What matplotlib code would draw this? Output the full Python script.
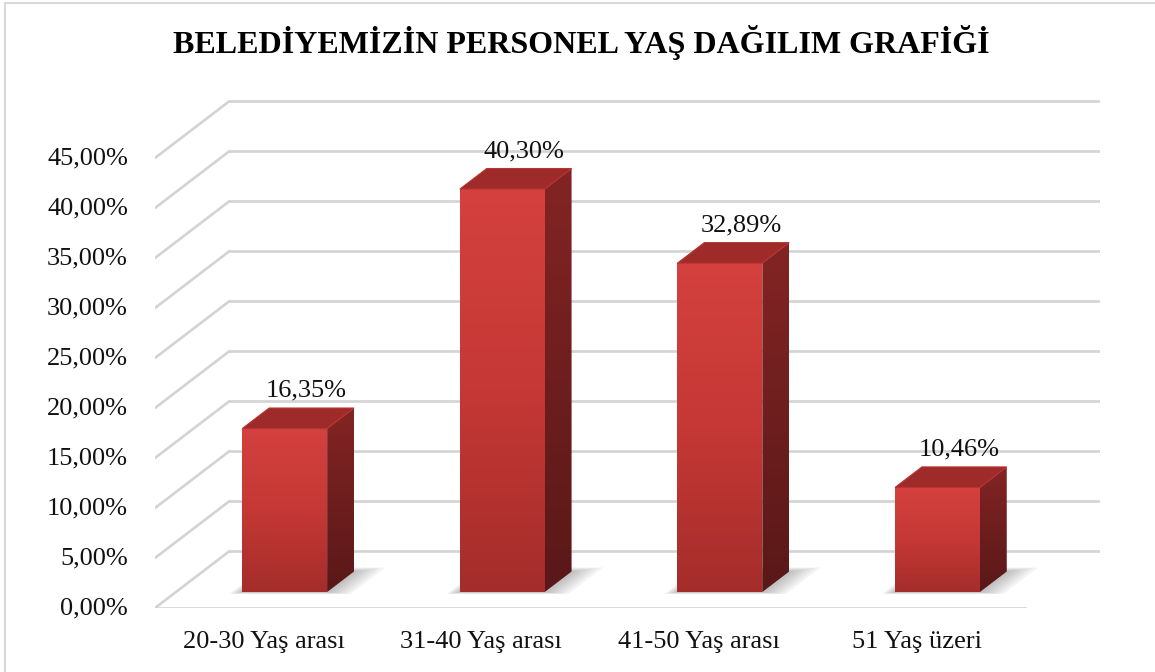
import matplotlib
matplotlib.use("Agg")
import matplotlib.pyplot as plt
import numpy as np
from matplotlib.patches import Polygon
from matplotlib.lines import Line2D
from matplotlib.colors import LinearSegmentedColormap

plt.rcParams['font.family'] = ['Liberation Serif', 'DejaVu Serif']

title = "BELEDİYEMİZİN PERSONEL YAŞ DAĞILIM GRAFİĞİ"
categories = ["20-30 Yaş arası", "31-40 Yaş arası", "41-50 Yaş arası", "51 Yaş üzeri"]
values = [16.35, 40.30, 32.89, 10.46]
yticks = [0, 5, 10, 15, 20, 25, 30, 35, 40, 45]

def fmt(v):
    return f"{v:.2f}".replace('.', ',') + '%'

W, H, DPI = 1155, 672, 100
fig = plt.figure(figsize=(W / DPI, H / DPI), dpi=DPI)
fig.patch.set_facecolor('white')

# 3D depth offsets (in data units) for the whole plot box
DX, DY = 0.343, 5.7
ncat = len(categories)
xmax = ncat + DX
ymax = max(yticks) + DY + 0.1

ax = fig.add_axes([155 / W, (H - 608) / H, (1100 - 155) / W, (608 - 100) / H])
ax.set_xlim(0, xmax)
ax.set_ylim(0, ymax)
ax.axis('off')

def proj(x, y, d):
    return (x + d * DX, y + d * DY)

grid_c = '#D3D3D3'
# grid: left wall diagonals + back wall lines
for t in yticks:
    ax.add_line(Line2D([0, DX], [t, t + DY], color=grid_c, lw=1.9, zorder=1, solid_capstyle='round'))
    ax.add_line(Line2D([DX, ncat + DX], [t + DY, t + DY], color=grid_c, lw=1.9, zorder=1))
# floor front edge
ax.add_line(Line2D([0, ncat], [0, 0], color=grid_c, lw=1.9, zorder=1))

# bars
w = 0.39
d0, d1 = 0.28, 0.64
front_cmap = LinearSegmentedColormap.from_list('f', ['#D4413E', '#C53835', '#A42D2B'])
side_cmap = LinearSegmentedColormap.from_list('s', ['#842424', '#6E1E1E', '#5A1818'])
grad = np.linspace(0, 1, 256).reshape(-1, 1)

for i, v in enumerate(values):
    x0, x1 = i + 0.5 - w / 2, i + 0.5 + w / 2
    # soft shadow on floor
    for k, e in enumerate(np.linspace(0.12, 0.0, 7)):
        sh = [proj(x0 - e * 0.4, 0, d0 - e * 0.3), proj(x1 + e, 0, d0 - e * 0.3),
              proj(x1 + e, 0, d1 + e * 0.6), proj(x0 - e * 0.4, 0, d1 + e * 0.6)]
        ax.add_patch(Polygon(sh, closed=True, facecolor='#404040', edgecolor='none',
                             alpha=0.06, zorder=2))
    front = [proj(x0, 0, d0), proj(x1, 0, d0), proj(x1, v, d0), proj(x0, v, d0)]
    side = [proj(x1, 0, d0), proj(x1, 0, d1), proj(x1, v, d1), proj(x1, v, d0)]
    top = [proj(x0, v, d0), proj(x1, v, d0), proj(x1, v, d1), proj(x0, v, d1)]

    fp = Polygon(front, closed=True, facecolor='none', edgecolor='none', zorder=3)
    ax.add_patch(fp)
    fx = [p[0] for p in front]; fy = [p[1] for p in front]
    im = ax.imshow(grad, cmap=front_cmap, aspect='auto', origin='upper',
                   extent=[min(fx), max(fx), min(fy), max(fy)], zorder=3)
    im.set_clip_path(fp)

    sp = Polygon(side, closed=True, facecolor='none', edgecolor='none', zorder=3)
    ax.add_patch(sp)
    sx = [p[0] for p in side]; sy = [p[1] for p in side]
    im2 = ax.imshow(grad, cmap=side_cmap, aspect='auto', origin='upper',
                    extent=[min(sx), max(sx), min(sy), max(sy)], zorder=3)
    im2.set_clip_path(sp)

    ax.add_patch(Polygon(top, closed=True, facecolor='#9E2B29', edgecolor='#B83431',
                         lw=0.8, zorder=4))

    # data label above the back top of bar
    lx, ly = proj(i + 0.5, v, (d0 + d1) / 2 + 0.18)
    ax.annotate(fmt(v), (lx, ly), xytext=(-4, 8), textcoords='offset points',
                ha='center', va='baseline', fontsize=19, color='#111111', zorder=5,
                annotation_clip=False)

# y tick labels
for t in yticks:
    ax.annotate(fmt(t), (0, t), xytext=(-19.5, 0), textcoords='offset points',
                ha='right', va='center', fontsize=19, color='#111111', annotation_clip=False)

# category labels
for i, c in enumerate(categories):
    ax.annotate(c, (i + 0.5, 0), xytext=(0, -29), textcoords='offset points',
                ha='center', va='baseline', fontsize=19, color='#111111', annotation_clip=False)

# title
fig.text(581 / W, 1 - 53 / H, title, ha='center', va='baseline', fontsize=23,
         fontweight='bold', color='#000000')

# chart area border (left and top visible)
fig.add_artist(Line2D([5 / W, 5 / W], [0, 1 - 3 / H], transform=fig.transFigure, color='#D9D9D9', lw=1.5))
fig.add_artist(Line2D([5 / W, 1], [1 - 3 / H, 1 - 3 / H], transform=fig.transFigure, color='#D9D9D9', lw=1.5))

fig.savefig('out.png', dpi=DPI, facecolor='white')
